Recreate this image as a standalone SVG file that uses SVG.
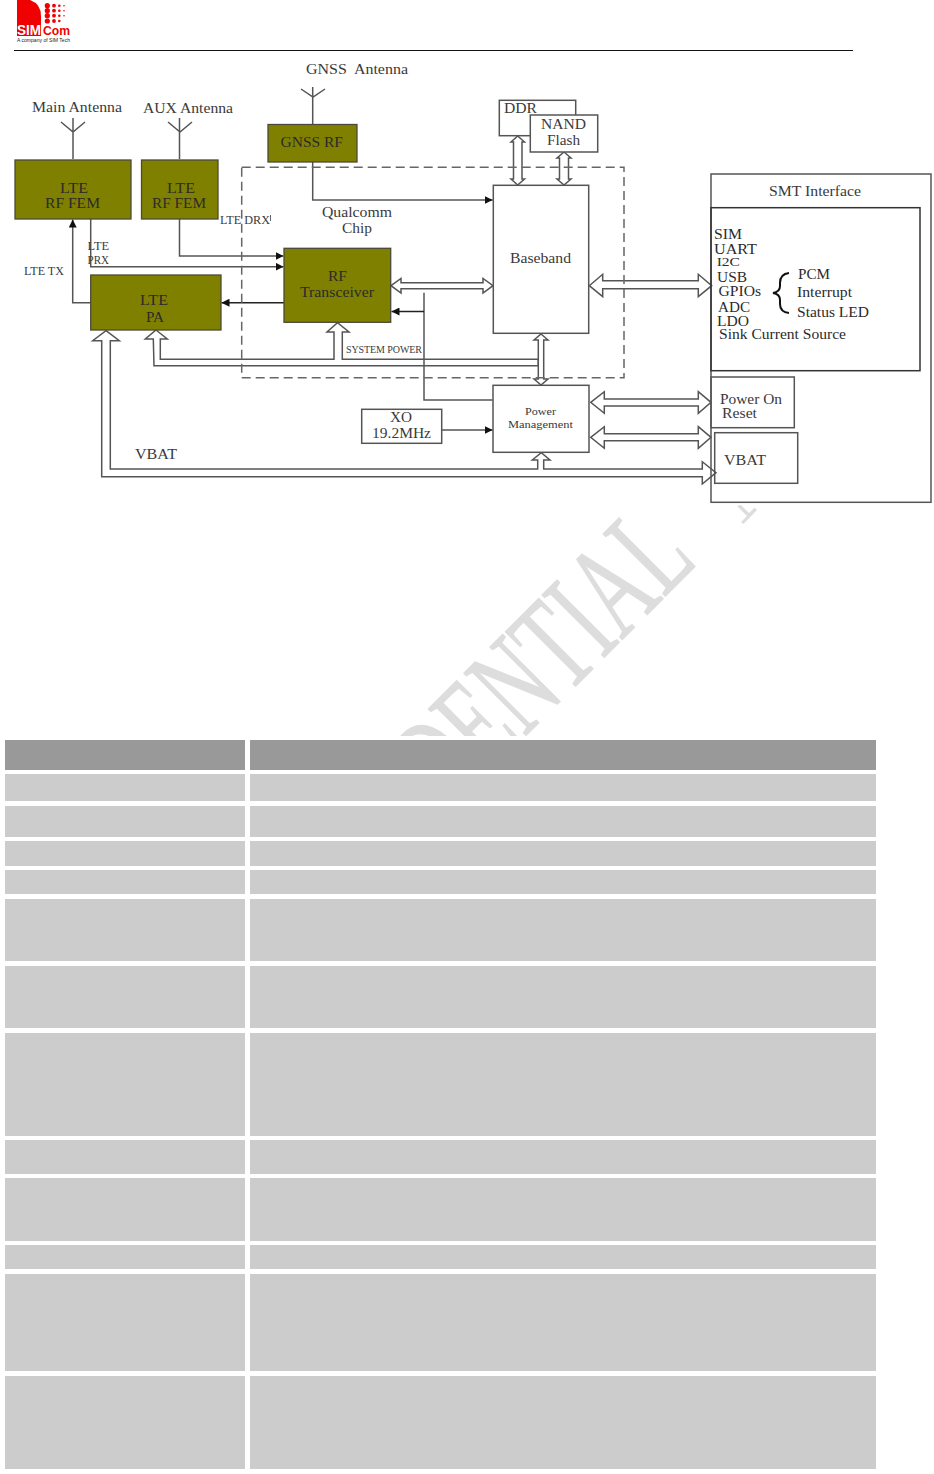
<svg xmlns="http://www.w3.org/2000/svg" width="934" height="1474" viewBox="0 0 934 1474">
<style>
text{font-family:"Liberation Serif","Times New Roman",serif;font-size:14px;fill:#3a3a3a}
.s12{font-size:12px}.s11{font-size:11px}.s10{font-size:10px}
.dk{fill:#2b2b2b}
.ol{fill:#808000;stroke:#4a4a36;stroke-width:1.3}
.box{fill:#fff;stroke:#555;stroke-width:1.5}
.nf{fill:none;stroke:#555;stroke-width:1.5}
.ln{fill:none;stroke:#555;stroke-width:1.5}
.blk{fill:none;stroke:#222;stroke-width:1.5}
.ha{fill:#fff;stroke:#555;stroke-width:1.5;stroke-linejoin:miter}
.row{fill:#ccc}.head{fill:#999}
</style>
<defs>
<marker id="ah" markerUnits="userSpaceOnUse" markerWidth="9" markerHeight="8" refX="8" refY="4" orient="auto"><path d="M0,0L8,4L0,8Z" fill="#111"/></marker>
</defs>
<rect width="934" height="1474" fill="#fff"/>

<g id="watermark">
<text transform="matrix(0.583 -0.583 0.95 0.95 446.6 815)" style="font-size:100px;fill:#ddd;stroke:#ddd;stroke-width:1">DENTIAL</text>
<path d="M737,506L747,516L741,522L743.500,524L757,510L754.500,507.500L749,513L741,505Z" fill="#ddd"/>
<rect x="0" y="736" width="934" height="738" fill="#fff"/>
<rect x="14" y="52" width="920" height="452" fill="#fff"/>
</g>

<g id="logo">
<path d="M17,36V0H30Q41,4 41,16V36Z" fill="#f00000"/>
<text x="17" y="34.800" textLength="24" lengthAdjust="spacingAndGlyphs" style="font-family:'Liberation Sans',Arial,sans-serif;font-weight:bold;font-size:14px;fill:#fff">SIM</text>
<text x="43" y="34.800" textLength="27" lengthAdjust="spacingAndGlyphs" style="font-family:'Liberation Sans',Arial,sans-serif;font-weight:bold;font-size:13px;fill:#f00000">Com</text>
<text x="17" y="42" textLength="53" lengthAdjust="spacingAndGlyphs" style="font-family:'Liberation Sans',Arial,sans-serif;font-size:5.500px;fill:#222">A company of SIM Tech</text>
<g fill="#f00000">
<circle cx="47.300" cy="5.700" r="2.600"/><circle cx="54" cy="5.700" r="1.900"/><circle cx="59.300" cy="5.700" r="1.300"/><circle cx="64" cy="5.700" r="0.800"/>
<circle cx="47.300" cy="10.700" r="2.600"/><circle cx="54" cy="10.700" r="1.900"/><circle cx="59.300" cy="10.700" r="1.300"/><circle cx="64" cy="10.700" r="0.800"/>
<circle cx="47.300" cy="15.700" r="2.600"/><circle cx="54" cy="15.700" r="1.900"/><circle cx="59.300" cy="15.700" r="1.300"/><circle cx="64" cy="15.700" r="0.800"/>
<circle cx="47.300" cy="21" r="2.600"/><circle cx="54" cy="21" r="1.900"/><circle cx="59.300" cy="21" r="1.300"/>
</g>
</g>
<line id="header-rule" x1="14" y1="50.500" x2="853" y2="50.500" stroke="#111" stroke-width="1"/>

<g id="connectors">
<path class="nf" d="M73,159V118M61,122L73,132L85,122"/>
<path class="nf" d="M179.500,159V118M168,122L180,132L192,122"/>
<path class="nf" d="M312.700,124V87M301,89L313,97L325,89"/>
<path class="ln" d="M91,302.700H72.700V219.500" marker-end="url(#ah)"/>
<path class="ln" d="M90.700,219V266.700H283.500" marker-end="url(#ah)"/>
<path class="ln" d="M179.500,219V256H283.500" marker-end="url(#ah)"/>
<path class="blk" d="M288,302.700H221.500" marker-end="url(#ah)"/>
<path class="ln" d="M312.700,162V200H492.700" marker-end="url(#ah)"/>
<path class="ln" d="M442,430H492.700" marker-end="url(#ah)"/>
<polygon class="ha" points="106,330.700 119.300,340.700 110.300,340.700 110.300,469 537.700,469 537.700,460 532.300,460 541.300,452.700 550,460 543.700,460 543.700,469 702.300,469 702.300,461.700 716,472.700 702.300,484 702.300,476.700 101.700,476.700 101.700,340.700 92.700,340.700"/>
<polygon class="ha" points="156,330 167.300,339 160.300,339 160.300,359.300 334,359.300 334,332 327,332 337.500,322.700 349,332 342.300,332 342.300,359.300 538.300,359.300 538.300,365.700 154,365.700 153.300,339 145.300,339"/>
<polygon class="ha" points="391,285.700 401,278.500 401,282.700 483,282.700 483,278.500 493,285.700 483,293 483,288.700 401,288.700 401,293"/>
<polygon class="ha" points="541,334 548,340 543.700,340 543.700,379 548,379 541,385 534,379 538.300,379 538.300,340 534,340"/>
<polygon class="ha" points="517.700,136 524.500,142 522,142 522,179 524.500,179 517.700,185 511,179 513.500,179 513.500,142 511,142"/>
<polygon class="ha" points="564,152 571,158 568.500,158 568.500,179 571,179 564,185 557,179 559.500,179 559.500,158 557,158"/>
<polygon class="ha" points="589.300,285.700 602.700,274.300 602.700,280.700 698.300,280.700 698.300,274.300 711.700,285.700 698.300,296.700 698.300,288.700 602.700,288.700 602.700,296.700"/>
<polygon class="ha" points="590.700,402.300 604.300,391.700 604.300,399 698.300,399 698.300,391.700 711,402.300 698.300,413.300 698.300,406 604.300,406 604.300,413.300"/>
<polygon class="ha" points="590.700,437.300 604.300,426.700 604.300,433.700 698.300,433.700 698.300,426.700 711,437.300 698.300,448.300 698.300,440.700 604.300,440.700 604.300,448.300"/>
<path class="ln" d="M424,292.700V400H492.700"/>
<path class="blk" d="M424,311.500H391.500" marker-end="url(#ah)"/>
</g>

<g id="node-lte-fem-main"><rect class="ol" x="15" y="160" width="116" height="59"/>
<text class="dk" x="60" y="193" textLength="28" lengthAdjust="spacingAndGlyphs">LTE</text><text class="dk" x="45" y="208" textLength="55" lengthAdjust="spacingAndGlyphs">RF FEM</text></g>
<g id="node-lte-fem-aux"><rect class="ol" x="141.500" y="160" width="76.500" height="59"/>
<text class="dk" x="167" y="193" textLength="28" lengthAdjust="spacingAndGlyphs">LTE</text><text class="dk" x="152" y="208" textLength="54" lengthAdjust="spacingAndGlyphs">RF FEM</text></g>
<g id="node-gnss-rf"><rect class="ol" x="268" y="124.500" width="89" height="37.500"/>
<text class="dk" x="280.500" y="146.700" textLength="62.500" lengthAdjust="spacingAndGlyphs">GNSS RF</text></g>
<g id="node-lte-pa"><rect class="ol" x="90.700" y="275" width="130.300" height="55"/>
<text class="dk" x="140" y="305" textLength="28" lengthAdjust="spacingAndGlyphs">LTE</text><text class="dk" x="146" y="321.700" textLength="18" lengthAdjust="spacingAndGlyphs">PA</text></g>
<g id="node-rf-transceiver"><rect class="ol" x="284" y="248.300" width="106.700" height="74"/>
<text class="dk" x="328" y="281" textLength="19" lengthAdjust="spacingAndGlyphs">RF</text><text class="dk" x="300" y="297" textLength="74" lengthAdjust="spacingAndGlyphs">Transceiver</text></g>
<g id="node-baseband"><rect class="box" x="493.300" y="185.300" width="95.400" height="148"/>
<text x="510" y="263" textLength="61" lengthAdjust="spacingAndGlyphs">Baseband</text></g>
<g id="node-ddr"><rect class="box" x="499.300" y="100.300" width="76.400" height="35.400"/>
<text x="504" y="112.700" textLength="33" lengthAdjust="spacingAndGlyphs">DDR</text></g>
<g id="node-nand"><rect class="box" x="530.300" y="115" width="67.400" height="37"/>
<text x="541" y="129.300" textLength="45" lengthAdjust="spacingAndGlyphs">NAND</text><text x="547" y="145" textLength="33" lengthAdjust="spacingAndGlyphs">Flash</text></g>
<g id="node-power-management"><rect class="box" x="493" y="385.300" width="96" height="67"/>
<text class="s11" x="525" y="415" textLength="31" lengthAdjust="spacingAndGlyphs">Power</text><text class="s11" x="508" y="428" textLength="65" lengthAdjust="spacingAndGlyphs">Management</text></g>
<g id="node-xo"><rect class="box" x="361.700" y="409.300" width="80" height="34"/>
<text x="390" y="421.700" textLength="22" lengthAdjust="spacingAndGlyphs">XO</text><text x="372" y="437.700" textLength="59" lengthAdjust="spacingAndGlyphs">19.2MHz</text></g>

<g id="node-smt-interface"><rect class="box" style="fill:none" x="711" y="174" width="220" height="328.300"/>
<text x="769" y="196" textLength="92" lengthAdjust="spacingAndGlyphs">SMT Interface</text>
<rect class="box" style="fill:none;stroke:#333" x="711" y="207.700" width="209" height="163"/>
<g class="iface">
<text class="dk" x="714" y="239.300" textLength="28" lengthAdjust="spacingAndGlyphs">SIM</text>
<text class="dk" x="714" y="254" textLength="43" lengthAdjust="spacingAndGlyphs">UART</text>
<text class="dk" x="716.700" y="266" textLength="23.300" lengthAdjust="spacingAndGlyphs" style="font-size:13px">I2C</text>
<text class="dk" x="717" y="281.700" textLength="30" lengthAdjust="spacingAndGlyphs">USB</text>
<text class="dk" x="718.500" y="296" textLength="42.500" lengthAdjust="spacingAndGlyphs">GPIOs</text>
<text class="dk" x="718" y="311.700" textLength="32" lengthAdjust="spacingAndGlyphs">ADC</text>
<text class="dk" x="717" y="325.700" textLength="32" lengthAdjust="spacingAndGlyphs">LDO</text>
<text class="dk" x="719" y="339" textLength="127" lengthAdjust="spacingAndGlyphs">Sink Current Source</text>
<text class="dk" x="798" y="279" textLength="32" lengthAdjust="spacingAndGlyphs">PCM</text>
<text class="dk" x="797" y="296.700" textLength="55" lengthAdjust="spacingAndGlyphs">Interrupt</text>
<text class="dk" x="797" y="317" textLength="72" lengthAdjust="spacingAndGlyphs">Status LED</text>
</g>
<path d="M789,273Q780,274 780,283V286Q780,292 773,293Q780,294 780,300V304Q780,312 789,313" fill="none" stroke="#111" stroke-width="2"/>
</g>
<g id="node-power-on-reset"><rect class="box" style="fill:none" x="711" y="377" width="83.300" height="50.700"/>
<text x="720" y="404.300" textLength="62" lengthAdjust="spacingAndGlyphs">Power On</text><text x="722" y="418.300" textLength="35" lengthAdjust="spacingAndGlyphs">Reset</text></g>
<g id="node-vbat"><rect class="box" style="fill:none" x="714.700" y="432.700" width="83" height="50.600"/>
<text x="724" y="465" textLength="42" lengthAdjust="spacingAndGlyphs">VBAT</text></g>

<g id="qualcomm-chip">
<rect x="241.700" y="167.300" width="382.300" height="210.400" fill="none" stroke="#666" stroke-width="1.500" stroke-dasharray="9 5"/>
<text x="322" y="217" textLength="70" lengthAdjust="spacingAndGlyphs">Qualcomm</text><text x="342" y="232.700" textLength="30" lengthAdjust="spacingAndGlyphs">Chip</text>
</g>

<g id="labels">
<text x="32" y="112" textLength="90" lengthAdjust="spacingAndGlyphs">Main Antenna</text>
<text x="143" y="113" textLength="90" lengthAdjust="spacingAndGlyphs">AUX Antenna</text>
<text x="306" y="74" textLength="102" lengthAdjust="spacingAndGlyphs" xml:space="preserve">GNSS  Antenna</text>
<text class="s12" x="220" y="224" textLength="50" lengthAdjust="spacingAndGlyphs">LTE DRX</text>
<path d="M270.500,215V221" stroke="#666" stroke-width="1"/>
<text class="s12" x="87.500" y="250" textLength="21.500" lengthAdjust="spacingAndGlyphs">LTE</text>
<text class="s12" x="87.500" y="264" textLength="21.500" lengthAdjust="spacingAndGlyphs">PRX</text>
<text class="s12" x="24" y="275" textLength="40" lengthAdjust="spacingAndGlyphs">LTE TX</text>
<text class="s10" x="346" y="353" textLength="76" lengthAdjust="spacing">SYSTEM POWER</text>
<text x="135" y="459.300" textLength="42" lengthAdjust="spacingAndGlyphs">VBAT</text>
</g>

<g id="table">
<rect class="head" x="5" y="740" width="240" height="30"/><rect class="head" x="250" y="740" width="626" height="30"/>
<rect class="row" x="5" y="774" width="240" height="27"/><rect class="row" x="250" y="774" width="626" height="27"/>
<rect class="row" x="5" y="806" width="240" height="31"/><rect class="row" x="250" y="806" width="626" height="31"/>
<rect class="row" x="5" y="841" width="240" height="25"/><rect class="row" x="250" y="841" width="626" height="25"/>
<rect class="row" x="5" y="870" width="240" height="24"/><rect class="row" x="250" y="870" width="626" height="24"/>
<rect class="row" x="5" y="899" width="240" height="62"/><rect class="row" x="250" y="899" width="626" height="62"/>
<rect class="row" x="5" y="966" width="240" height="62"/><rect class="row" x="250" y="966" width="626" height="62"/>
<rect class="row" x="5" y="1033" width="240" height="103"/><rect class="row" x="250" y="1033" width="626" height="103"/>
<rect class="row" x="5" y="1140" width="240" height="34"/><rect class="row" x="250" y="1140" width="626" height="34"/>
<rect class="row" x="5" y="1178" width="240" height="63"/><rect class="row" x="250" y="1178" width="626" height="63"/>
<rect class="row" x="5" y="1245" width="240" height="24"/><rect class="row" x="250" y="1245" width="626" height="24"/>
<rect class="row" x="5" y="1274" width="240" height="97"/><rect class="row" x="250" y="1274" width="626" height="97"/>
<rect class="row" x="5" y="1376" width="240" height="93"/><rect class="row" x="250" y="1376" width="626" height="93"/>
</g>
</svg>
